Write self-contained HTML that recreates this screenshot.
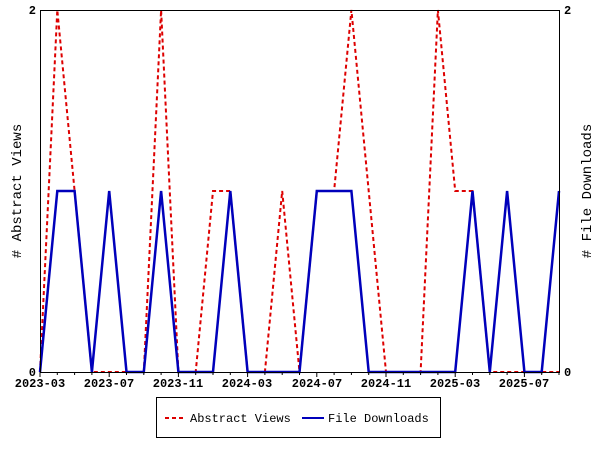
<!DOCTYPE html><html><head><style>body{margin:0;background:#fff}</style></head><body>
<svg width="600" height="450" xmlns="http://www.w3.org/2000/svg" font-family="Liberation Mono, DejaVu Sans Mono, monospace" font-size="12" font-weight="bold">
<rect width="600" height="450" fill="#fff"/>
<g id="plot"></g>
<rect x="40.5" y="10.5" width="519" height="362" fill="none" stroke="#000"/>
<g stroke="#000" id="ticks"></g>
<g text-anchor="middle">
<text x="40" y="387">2023-03</text><text x="109" y="387">2023-07</text><text x="178" y="387">2023-11</text><text x="247" y="387">2024-03</text><text x="317" y="387">2024-07</text><text x="386" y="387">2024-11</text><text x="455" y="387">2025-03</text><text x="524" y="387">2025-07</text>
</g>
<text x="36" y="14" text-anchor="end">2</text><text x="36" y="376" text-anchor="end">0</text>
<text x="564" y="14">2</text><text x="564" y="376">0</text>
<text transform="translate(21,191) rotate(-90)" text-anchor="middle" font-size="14" font-weight="normal">#&#160;Abstract&#160;Views</text>
<text transform="translate(591,191) rotate(-90)" text-anchor="middle" font-size="14" font-weight="normal">#&#160;File&#160;Downloads</text>
<rect x="156.5" y="397.5" width="284" height="40" fill="#fff" stroke="#000"/>
<line x1="165" y1="418" x2="186" y2="418" stroke="#d00" stroke-width="2" stroke-dasharray="4,3"/>
<text x="190" y="422" font-weight="normal">Abstract Views</text>
<line x1="302" y1="418" x2="324" y2="418" stroke="#00b" stroke-width="2"/>
<text x="328" y="422" font-weight="normal">File Downloads</text>
<script>
var r=[0,2,1,0,0,0,0,2,0,0,1,1,0,0,1,0,1,1,2,1,0,0,0,2,1,1,0,0,0,0,0];
var b=[0,1,1,0,1,0,0,1,0,0,0,1,0,0,0,0,1,1,1,0,0,0,0,0,0,1,0,1,0,0,1];
function pts(a){return a.map(function(v,i){return (40+i*17.3).toFixed(1)+','+(372-v*181)}).join(' ')}
var ns='http://www.w3.org/2000/svg',g=document.getElementById('plot');
var p=document.createElementNS(ns,'polyline');p.setAttribute('points',pts(r));p.setAttribute('fill','none');p.setAttribute('stroke','#d00');p.setAttribute('stroke-width','2');p.setAttribute('stroke-dasharray','4,3');g.appendChild(p);
p=document.createElementNS(ns,'polyline');p.setAttribute('points',pts(b));p.setAttribute('fill','none');p.setAttribute('stroke','#00b');p.setAttribute('stroke-width','2.5');g.appendChild(p);
var t=document.getElementById('ticks');
for(var i=0;i<=30;i++){var x=(40+i*17.3).toFixed(1);var l=document.createElementNS(ns,'line');l.setAttribute('x1',x);l.setAttribute('x2',x);l.setAttribute('y1',372);l.setAttribute('y2',i%4==0?377:375);t.appendChild(l);}
</script>
</svg></body></html>
